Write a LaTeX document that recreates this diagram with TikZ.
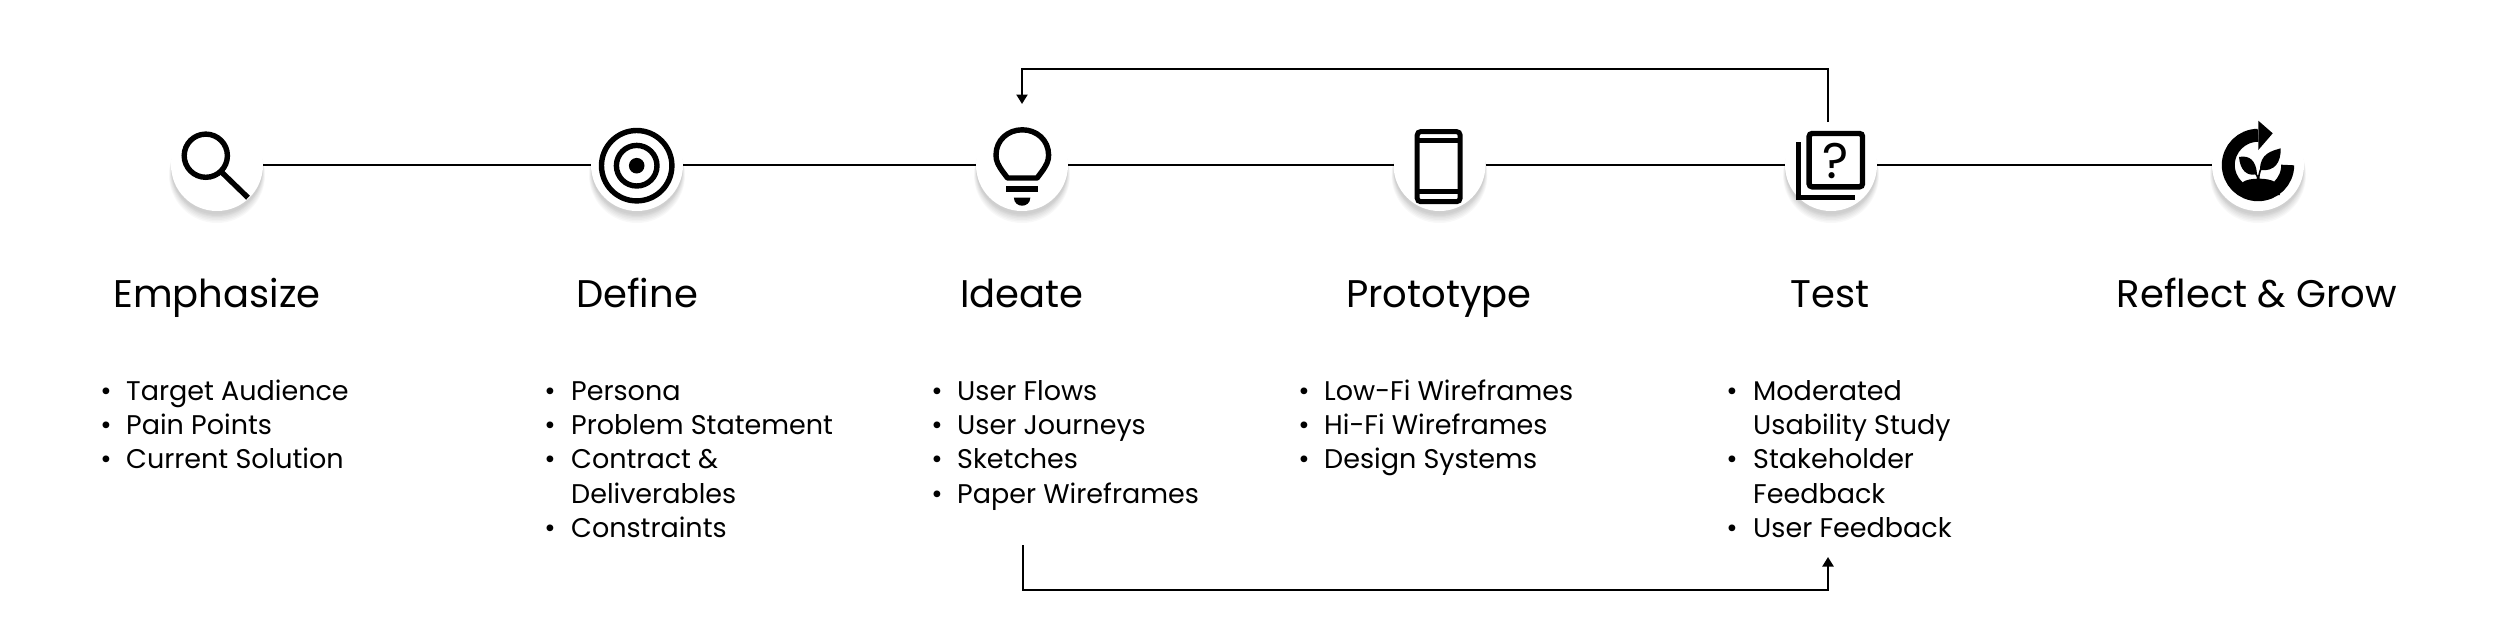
\documentclass[tikz,border=0pt]{standalone}
\usepackage{fontspec}
\setmainfont{Poppins}
\usetikzlibrary{arrows.meta}
\tikzset{
  disc/.style={circle,fill=white,minimum size=92pt,inner sep=0pt,outer sep=0pt},
  link/.style={line width=2.4pt,black},
  flow/.style={line width=2.2pt,black,-{Triangle[length=9.5pt,width=11pt]}},
  head/.style={anchor=base,inner sep=0pt,font=\fontsize{38.5}{40}\selectfont},
  item/.style={anchor=base west,inner sep=0pt,font=\fontsize{27}{30}\selectfont},
  dotmark/.style={anchor=base,inner sep=0pt,font=\fontsize{27.5}{30}\selectfont},
  icon/.style={black,line width=5.4pt}
}
\newcommand{\softshade}[2]{%
  \foreach \r/\d in {48/10,47.5/9,47/8,46.5/7,46/6,46/5,45.5/4}{
    \fill[black,opacity=.028] (#1,#2+\d) circle[radius=\r pt];
  }
}
\begin{document}
\begin{tikzpicture}[x=1pt,y=-1pt]
\useasboundingbox (0,0) rectangle (2500,633);
\fill[white] (0,0) rectangle (2500,633);
% shadows
\softshade{217}{165}\softshade{637}{165}\softshade{1022}{165}
\softshade{1439.5}{165}\softshade{1831}{165}\softshade{2258}{165}
% discs
\node[disc] (emph) at (217,165) {};
\node[disc] (defi) at (637,165) {};
\node[disc] (idea) at (1022,165) {};
\node[disc] (prot) at (1439.5,165) {};
\node[disc] (test) at (1831,165) {};
\node[disc] (refl) at (2258,165) {};
% connectors
\draw[link] (emph) -- (defi);
\draw[link] (defi) -- (idea);
\draw[link] (idea) -- (prot);
\draw[link] (prot) -- (test);
\draw[link] (test) -- (refl);
\coordinate (topA) at (1828,122);
\coordinate (topB) at (1022,104);
\coordinate (railT) at (0,69);
\coordinate (botA) at (1023,545);
\coordinate (botB) at (1828,557);
\coordinate (railB) at (0,590);
\draw[flow] (topA) -- (topA |- railT) -- (topB |- railT) -- (topB);
\draw[flow] (botA) -- (botA |- railB) -- (botB |- railB) -- (botB);
% search icon
\draw[icon] (205.8,155.7) circle[radius=21.6pt];
\draw[icon] (222,172.5) -- (248,197.7);
% target icon
\draw[icon] (636.7,165.7) circle[radius=35.2pt];
\draw[icon] (636.7,165.7) circle[radius=20.3pt];
\fill[black] (636.7,165.7) circle[radius=7.8pt];
% bulb icon
\draw[icon,line join=round] (1007.5,178) -- (1003,172) .. controls (998,165) and (996,161) .. (996,155)
  .. controls (996,140) and (1008,129.8) .. (1022.3,129.8)
  .. controls (1036.6,129.8) and (1048.6,140) .. (1048.6,155)
  .. controls (1048.6,161) and (1046.6,165) .. (1041.6,172) -- (1037.1,178) -- cycle;
\fill[black] (1006,186) rectangle (1037.6,192.3);
\fill[black] (1013.9,197.7) -- (1030.3,197.7) .. controls (1030.3,203) and (1026,205.7) .. (1022.1,205.7)
  .. controls (1018.2,205.7) and (1013.9,203) .. (1013.9,197.7) -- cycle;
% phone icon
\draw[black,line width=5pt,rounded corners=3.5pt] (1417.2,131.6) rectangle (1460.1,201.7);
\draw[black,line width=4.4pt] (1417.2,140.5) -- (1460.1,140.5);
\draw[black,line width=4.4pt] (1417.2,191.5) -- (1460.1,191.5);
% test icon
\draw[icon,rounded corners=3pt] (1809.1,133.5) rectangle (1862.5,186.8);
\draw[icon] (1798.5,142) -- (1798.5,197.5) -- (1854.8,197.5);
\node[inner sep=0pt,anchor=base,font=\fontsize{50}{50}\selectfont] (qm) at (1835.7,178) {?};
% reflect icon
\begin{scope}
\draw[black,line width=13pt] (2287.7,165) arc[start angle=0,end angle=-270,radius=29.7pt];
\fill[black] (2258.3,120.7) -- (2272.7,133.3) -- (2258.3,150) -- cycle;
\fill[black] (2243,182) .. controls (2249,177.5) and (2268,177.5) .. (2275,182) -- (2280,195) -- (2240,195) -- cycle;
\draw[black,line width=1.6pt] (2258.8,180) .. controls (2258.5,172) and (2261,168) .. (2265,162);
\draw[black,line width=1.6pt] (2258.5,180) .. controls (2257,174) and (2254,171) .. (2250,167);
\fill[black] (2239,157) .. controls (2249,155) and (2256,160) .. (2257,174) .. controls (2247,177) and (2240,170) .. (2239,157) -- cycle;
\fill[black] (2280.7,148.3) .. controls (2272,151) and (2260,153) .. (2260,170) .. controls (2275,172) and (2281,162) .. (2280.7,148.3) -- cycle;
\end{scope}
% headings
\node[head] (h1) at (217,307) {Emphasize};
\node[head] (h2) at (637,307) {Define};
\node[head] (h3) at (1022,307) {Ideate};
\node[head] (h4) at (1439,307) {Prototype};
\node[head] (h5) at (1830,307) {Test};
\node[head] (h6) at (2257,307) {Reflect \& Grow};
% Emphasize list
\node[dotmark] (d11) at (106,400) {•}; \node[item] (t11) at (126,400) {Target Audience};
\node[dotmark] (d12) at (106,434.4) {•}; \node[item] (t12) at (126,434.4) {Pain Points};
\node[dotmark] (d13) at (106,468.8) {•}; \node[item] (t13) at (126,468.8) {Current Solution};
% Define list
\node[dotmark] (d21) at (550,400) {•}; \node[item] (t21) at (571,400) {Persona};
\node[dotmark] (d22) at (550,434.4) {•}; \node[item] (t22) at (571,434.4) {Problem Statement};
\node[dotmark] (d23) at (550,468.8) {•}; \node[item] (t23) at (571,468.8) {Contract \&};
\node[item] (t24) at (571,503.2) {Deliverables};
\node[dotmark] (d25) at (550,537.6) {•}; \node[item] (t25) at (571,537.6) {Constraints};
% Ideate list
\node[dotmark] (d31) at (937,400) {•}; \node[item] (t31) at (957,400) {User Flows};
\node[dotmark] (d32) at (937,434.4) {•}; \node[item] (t32) at (957,434.4) {User Journeys};
\node[dotmark] (d33) at (937,468.8) {•}; \node[item] (t33) at (957,468.8) {Sketches};
\node[dotmark] (d34) at (937,503.2) {•}; \node[item] (t34) at (957,503.2) {Paper Wireframes};
% Prototype list
\node[dotmark] (d41) at (1304,400) {•}; \node[item] (t41) at (1324,400) {Low-Fi Wireframes};
\node[dotmark] (d42) at (1304,434.4) {•}; \node[item] (t42) at (1324,434.4) {Hi-Fi Wireframes};
\node[dotmark] (d43) at (1304,468.8) {•}; \node[item] (t43) at (1324,468.8) {Design Systems};
% Test list
\node[dotmark] (d51) at (1732,400) {•}; \node[item] (t51) at (1753,400) {Moderated};
\node[item] (t52) at (1753,434.4) {Usability Study};
\node[dotmark] (d53) at (1732,468.8) {•}; \node[item] (t53) at (1753,468.8) {Stakeholder};
\node[item] (t54) at (1753,503.2) {Feedback};
\node[dotmark] (d55) at (1732,537.6) {•}; \node[item] (t55) at (1753,537.6) {User Feedback};
\end{tikzpicture}
\end{document}
